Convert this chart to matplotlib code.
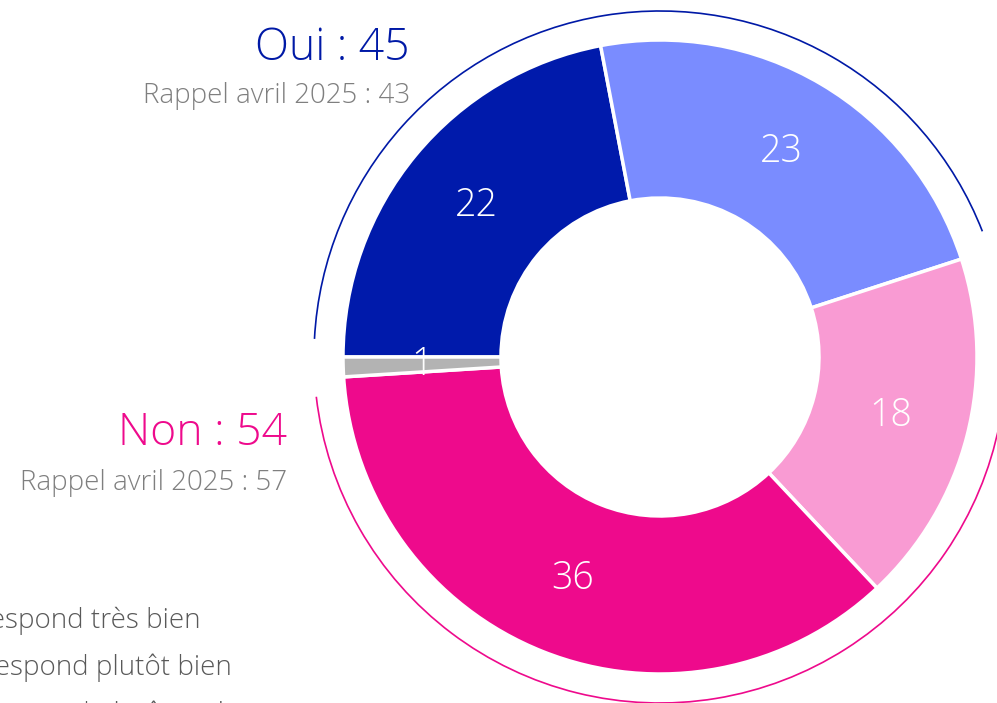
import numpy as np
import matplotlib.pyplot as plt
from matplotlib.patches import Arc

plt.rcParams['font.family'] = ['Open Sans', 'DejaVu Sans']

# donut data, clockwise from the left
categories = ["Correspond très bien", "Correspond plutôt bien", "Correspond plutôt mal",
              "Ne correspond pas du tout", "Ne se prononce pas"]
values = [22, 23, 18, 36, 1]
colors = ["#001AAB", "#7A8CFF", "#F99BD3", "#EE0A8C", "#B3B3B3"]

oui_total = 45
non_total = 54
oui_rappel = 43
non_rappel = 57

blue = "#0019A6"
pink = "#EE0A8C"
grey_txt = "#7F7F7F"

fig = plt.figure(figsize=(9.97, 7.03), dpi=100)
ax = fig.add_axes([0, 0, 1, 1])

cx, cy = 660, 346
r_out, r_in = 317, 159

wedges, _, autotexts = ax.pie(values, colors=colors, startangle=180, counterclock=False,
                              radius=r_out, center=(cx, cy),
                              autopct=lambda p: f"{p:.0f}", pctdistance=(r_out + r_in) / 2 / r_out,
                              wedgeprops=dict(width=r_out - r_in, edgecolor='white', linewidth=2.5))
for t, v in zip(autotexts, values):
    t.set_text(str(v))
    t.set_color('white')
    t.set_fontsize(27)
    t.set_fontweight('light')

# outer arcs for Oui / Non groups
r_arc = 346
a_oui_start = 180 - oui_total * 3.6
a_non_end = 180 - (oui_total + non_total) * 3.6
ax.add_patch(Arc((cx, cy), 2 * r_arc, 2 * r_arc, theta1=a_oui_start + 3.3, theta2=180 - 3,
                 color=blue, lw=1.2))
ax.add_patch(Arc((cx, cy), 2 * r_arc, 2 * r_arc, theta1=a_non_end + 360 + 3, theta2=a_oui_start + 360 - 6,
                 color=pink, lw=1.2))

ax.text(410, 643, f"Oui : {oui_total}", color=blue, fontsize=32, ha='right', va='baseline',
        fontweight='light')
ax.text(410, 600, f"Rappel avril 2025 : {oui_rappel}", color=grey_txt, fontsize=20, ha='right',
        va='baseline', fontweight='light')
ax.text(287, 258, f"Non : {non_total}", color=pink, fontsize=32, ha='right', va='baseline',
        fontweight='light')
ax.text(287, 213, f"Rappel avril 2025 : {non_rappel}", color=grey_txt, fontsize=20, ha='right',
        va='baseline', fontweight='light')

# legend text, cut by the left edge
leg_right = [200, 232, 224]
leg_y = [75, 28, -19]
for lab, xr, yy in zip(categories[:3], leg_right, leg_y):
    ax.text(xr, yy, lab, color="#595959", fontsize=20, ha='right', va='baseline', fontweight='light')

ax.set_xlim(0, 997)
ax.set_ylim(0, 703)
ax.set_aspect('auto')
ax.axis('off')

plt.savefig("out.png", dpi=100)
